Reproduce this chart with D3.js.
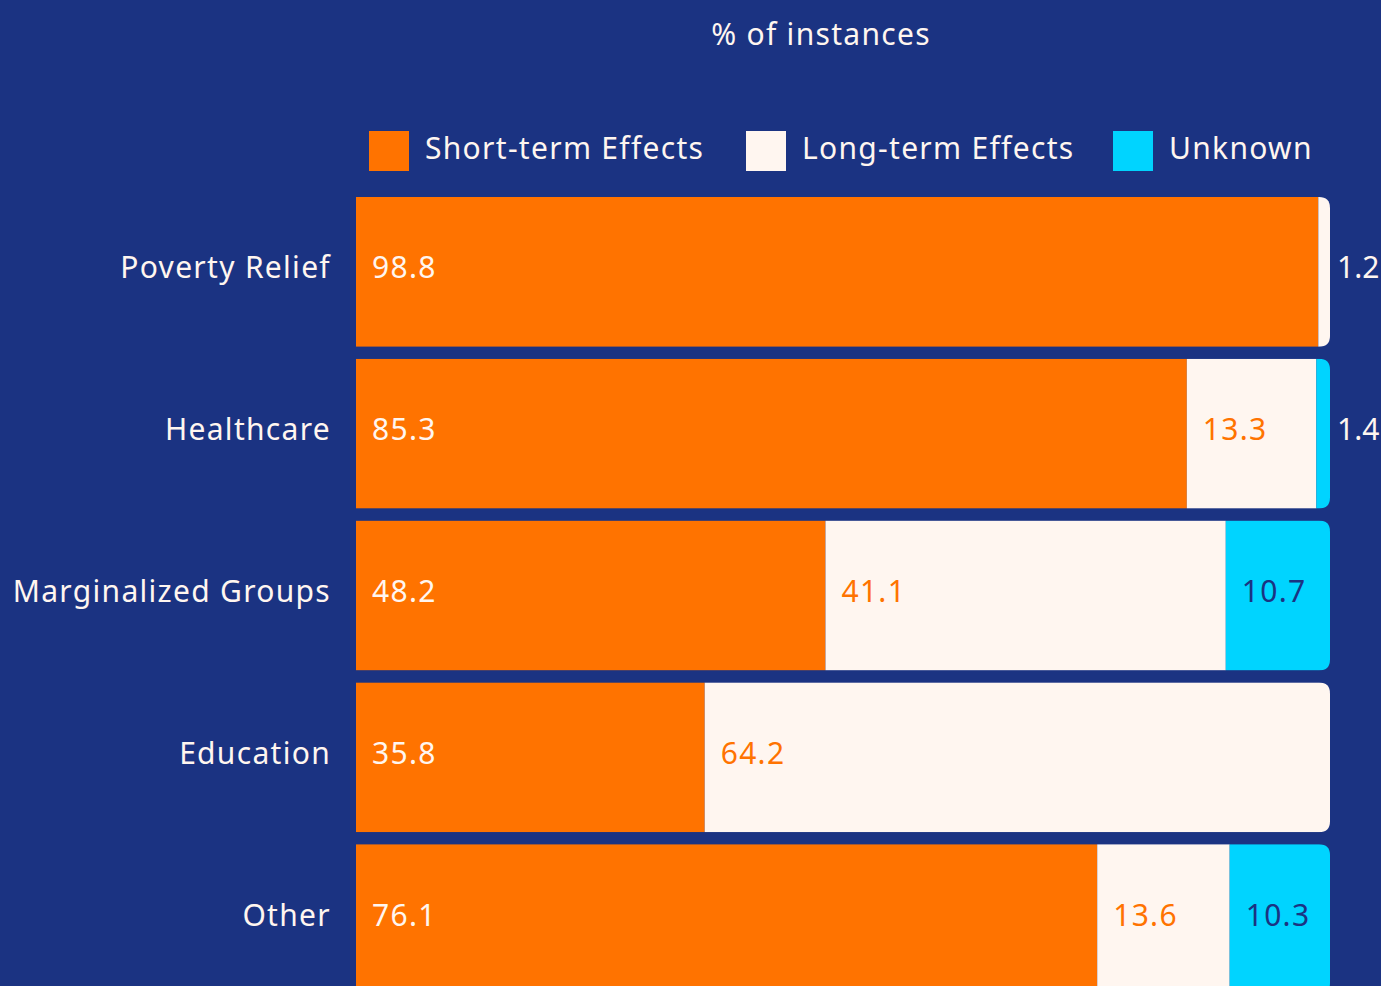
<!DOCTYPE html>
<html>
<head>
<meta charset="utf-8">
<script src="https://cdn.jsdelivr.net/npm/d3@7"></script>
<style>
  html, body { margin: 0; padding: 0; background: #1b3382; overflow: hidden; }
  text { font-family: "Noto Sans", "Open Sans", sans-serif; letter-spacing: 1.3px; }
</style>
</head>
<body>
<div id="chart"></div>
<script>
// data
var categories = ["Poverty Relief", "Healthcare", "Marginalized Groups", "Education", "Other"];
var seriesNames = ["Short-term Effects", "Long-term Effects", "Unknown"];
var shortTerm = [98.8, 85.3, 48.2, 35.8, 76.1];
var longTerm = [1.2, 13.3, 41.1, 64.2, 13.6];
var unknown = [0, 1.4, 10.7, 0, 10.3];

var colors = ["#ff7300", "#fff6f0", "#00d4ff"];
var labelColors = ["#fff6f0", "#ff7300", "#1b3382"];

var width = 1381, height = 986;

var svg = d3.select("#chart")
    .append("svg")
    .attr("width", width)
    .attr("height", height);

svg.append("rect")
    .attr("width", width)
    .attr("height", height)
    .attr("fill", "#1b3382");

var rows = categories.map(function(c, i) {
    return { category: c, "Short-term Effects": shortTerm[i], "Long-term Effects": longTerm[i], "Unknown": unknown[i] };
});

var stack = d3.stack().keys(seriesNames);
var stacked = stack(rows);

var x = d3.scaleLinear()
    .domain([0, 100])
    .range([356, 1330]);

var y = d3.scaleBand()
    .domain(categories)
    .range([197, 994])
    .paddingInner(0.0742)
    .paddingOuter(0);

var fs = 30;

// title
svg.append("text")
    .attr("x", 821)
    .attr("y", 34)
    .attr("dy", "0.35em")
    .attr("text-anchor", "middle")
    .attr("fill", "#fff6f0")
    .attr("font-size", fs)
    .text("% of instances");

// legend
var legendX = [369, 746, 1113];
var legend = svg.selectAll(".legend")
    .data(seriesNames)
    .enter()
    .append("g")
    .attr("class", "legend")
    .attr("transform", function(d, i) { return "translate(" + legendX[i] + ",131)"; });

legend.append("rect")
    .attr("width", 40)
    .attr("height", 40)
    .attr("fill", function(d, i) { return colors[i]; });

legend.append("text")
    .attr("x", 56)
    .attr("y", 17)
    .attr("dy", "0.35em")
    .attr("fill", "#fff6f0")
    .attr("font-size", fs)
    .text(function(d) { return d; });

// rounded right end for each row
var r = 11;
var defs = svg.append("defs");
categories.forEach(function(c, i) {
    var x0 = x(0), x1 = x(100), y0 = y(c), y1 = y(c) + y.bandwidth();
    defs.append("clipPath")
        .attr("id", "clip" + i)
        .append("path")
        .attr("d", "M" + x0 + "," + y0 +
            "H" + (x1 - r) +
            "Q" + x1 + "," + y0 + " " + x1 + "," + (y0 + r) +
            "V" + (y1 - r) +
            "Q" + x1 + "," + y1 + " " + (x1 - r) + "," + y1 +
            "H" + x0 + "Z");
});

var rowG = svg.selectAll(".row")
    .data(categories)
    .enter()
    .append("g")
    .attr("class", "row")
    .attr("clip-path", function(d, i) { return "url(#clip" + i + ")"; });

rowG.each(function(c, i) {
    var g = d3.select(this);
    stacked.forEach(function(s, k) {
        var d = s[i];
        if (d[1] - d[0] <= 0) return;
        g.append("rect")
            .attr("x", x(d[0]))
            .attr("y", y(c))
            .attr("width", x(d[1]) - x(d[0]))
            .attr("height", y.bandwidth())
            .attr("fill", colors[k]);
    });
});

// value labels (tiny segments get their label outside the bar)
stacked.forEach(function(s, k) {
    s.forEach(function(d, i) {
        var v = d[1] - d[0];
        if (v <= 0) return;
        var c = categories[i];
        var small = v < 3;
        svg.append("text")
            .attr("x", small ? x(100) + 7 : x(d[0]) + 16)
            .attr("y", y(c) + y.bandwidth() / 2 - 4)
            .attr("dy", "0.35em")
            .attr("fill", small ? "#fff6f0" : labelColors[k])
            .attr("font-size", fs)
            .style("letter-spacing", small ? "0px" : null)
            .text(v.toFixed(1));
    });
});

// category labels
svg.selectAll(".cat")
    .data(categories)
    .enter()
    .append("text")
    .attr("class", "cat")
    .attr("x", 331)
    .attr("y", function(d) { return y(d) + y.bandwidth() / 2 - 4; })
    .attr("dy", "0.35em")
    .attr("text-anchor", "end")
    .attr("fill", "#fff6f0")
    .attr("font-size", fs)
    .text(function(d) { return d; });
</script>
</body>
</html>
